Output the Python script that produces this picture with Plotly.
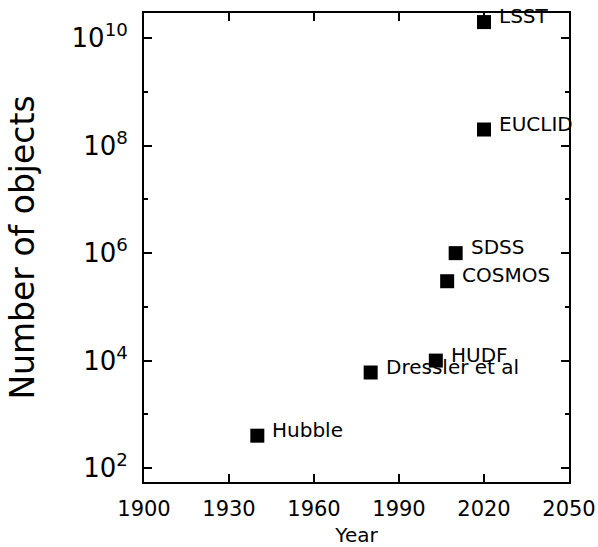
import math
import plotly.graph_objects as go

surveys = ["LSST", "EUCLID", "SDSS", "COSMOS", "HUDF", "Dressler et al", "Hubble"]
years = [2020, 2020, 2010, 2007, 2003, 1980, 1940]
counts = [2e10, 2e8, 1e6, 3e5, 1e4, 6e3, 4e2]

x_ticks = [1900, 1930, 1960, 1990, 2020, 2050]
y_major = [1e2, 1e4, 1e6, 1e8, 1e10]
y_major_text = ["10<sup>2</sup>", "10<sup>4</sup>", "10<sup>6</sup>", "10<sup>8</sup>", "10<sup>10</sup>"]
y_minor = [1e3, 1e5, 1e7, 1e9]

font_family = "DejaVu Sans, sans-serif"

fig = go.Figure()
fig.add_trace(go.Scatter(
    x=years, y=counts, mode="markers",
    marker=dict(symbol="square", size=14, color="black"),
    showlegend=False, hoverinfo="skip",
))

for name, xv, yv in zip(surveys, years, counts):
    fig.add_annotation(x=xv, y=math.log10(yv), text=name,
                       showarrow=False, xanchor="left", yanchor="middle",
                       xshift=13, yshift=6,
                       font=dict(family=font_family, size=20, color="black"))

# initial size fits inside the default 8px page margin; the post script
# removes that margin and grows the figure to the full 598x547 window
fig.update_layout(
    width=582, height=531,
    margin=dict(l=144, r=29, t=13, b=65, autoexpand=False),
    paper_bgcolor="white", plot_bgcolor="white",
    font=dict(family=font_family, color="black"),
)

fig.update_xaxes(
    range=[1900, 2050], tickvals=x_ticks, automargin=False,
    ticks="inside", ticklen=8, tickwidth=2, tickcolor="black",
    showline=True, linewidth=2, linecolor="black", mirror="ticks",
    showgrid=False, zeroline=False,
    tickfont=dict(size=21, family=font_family),
    ticklabelstandoff=7,
    title=dict(text="Year", font=dict(size=20, family=font_family), standoff=11),
)

fig.update_yaxes(
    type="log", range=[1.74, 10.47], automargin=False,
    tickvals=y_major, ticktext=y_major_text,
    ticks="inside", ticklen=8, tickwidth=2, tickcolor="black",
    minor=dict(tickvals=y_minor, ticks="inside", ticklen=4, tickwidth=2, tickcolor="black", showgrid=False),
    showline=True, linewidth=2, linecolor="black", mirror="ticks",
    showgrid=False, zeroline=False,
    tickfont=dict(size=26, family=font_family),
    ticklabelstandoff=9,
    title=dict(text="Number of objects", font=dict(size=33, family=font_family), standoff=27),
)

post = (
    "document.body.style.margin='0';"
    "document.body.style.overflow='hidden';"
    "var gd=document.getElementsByClassName('plotly-graph-div')[0];"
    "gd.style.width='598px';gd.style.height='547px';"
    "Plotly.relayout(gd,{width:598,height:547});"
)

fig.write_html("out.html", config={"displayModeBar": False}, post_script=post)
